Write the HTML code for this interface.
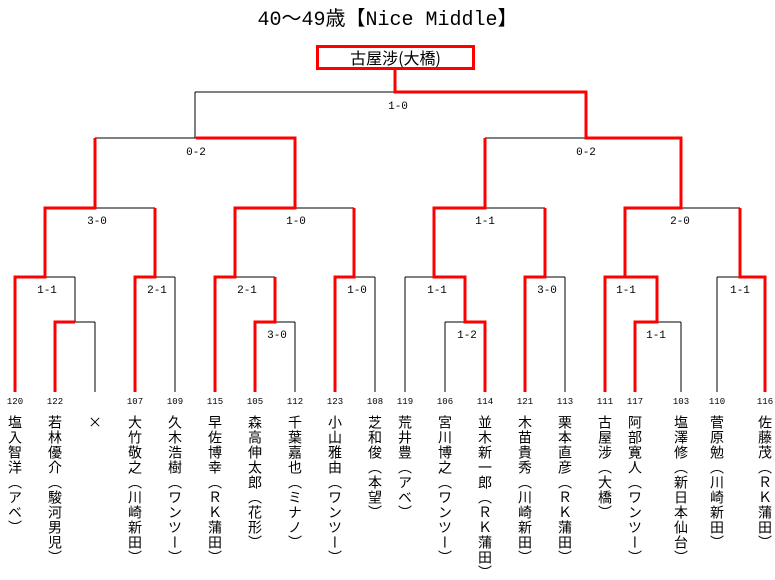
<!DOCTYPE html>
<html><head><meta charset="utf-8"><style>
body{margin:0;background:#fff;width:775px;height:578px;overflow:hidden;position:relative;font-family:"Liberation Sans","Noto Sans CJK JP",sans-serif}
.t{position:absolute;left:0;width:775px;top:2px;text-align:center;font-family:"Liberation Mono","Noto Sans CJK JP",monospace;font-size:20px}
.box{position:absolute;left:316px;top:45px;width:153px;height:19px;border:3px solid #f00;text-align:center;font-size:16px;line-height:19px;font-family:"Noto Sans CJK JP",sans-serif}
.n{position:absolute;top:397px;width:30px;margin-left:-15px;text-align:center;font-size:9px;font-family:"Liberation Mono",monospace}
.v{position:absolute;top:415px;width:16px;margin-left:-8px;writing-mode:vertical-rl;font-size:14px;line-height:16px;letter-spacing:1px;font-family:"Noto Sans CJK JP",sans-serif}
</style></head><body>
<div class="t">40～49歳【Nice Middle】</div>
<div class="box">古屋涉(大橋)</div>
<svg width="775" height="578" style="position:absolute;left:0;top:0">
<g stroke="#000" stroke-width="1" fill="none">
<path d="M195 92H586M95 138H295M485 138H681M45 208H155M235 208H354M434 208H545M625 208H740"/>
<path d="M195 92V138M95 138V208M295 138V208M485 138V208M681 138V208"/>
<path d="M15 277H75M75 277V322M55 322H95M95 322V392M135 277H175M175 277V392M215 277H275M255 322H295M295 322V392M335 277H375M375 277V392"/>
<path d="M405 277H465M405 277V392M445 322H485M445 322V392M525 277H565M565 277V392M605 277H657M635 322H681M681 322V392M717 277H765M717 277V392"/>
</g>
<g stroke="#f00" stroke-width="3" fill="none" stroke-linejoin="miter">
<path d="M395 70V92H586V138H681V208H625V277H605V392"/>
<path d="M196 138H295V208H235V277H215V392"/>
<path d="M95 138V208H45V277H15V392"/>
<path d="M155 208V277H135V392"/>
<path d="M354 208V277H335V392"/>
<path d="M485 138V208H434V277H465V322H485V392"/>
<path d="M545 208V277H525V392"/>
<path d="M740 208V277H765V392"/>
<path d="M55 392V322H75"/>
<path d="M275 277V322H255V392"/>
<path d="M625 277H657V322H635V392"/>
</g>
<g font-family="Liberation Mono, monospace" font-size="11" text-anchor="middle">
<text x="398" y="109">1-0</text>
<text x="196" y="155">0-2</text><text x="586" y="155">0-2</text>
<text x="97" y="224">3-0</text><text x="296" y="224">1-0</text><text x="485" y="224">1-1</text><text x="680" y="224">2-0</text>
<text x="47" y="293">1-1</text><text x="157" y="293">2-1</text><text x="247" y="293">2-1</text><text x="357" y="293">1-0</text>
<text x="437" y="293">1-1</text><text x="547" y="293">3-0</text><text x="626" y="293">1-1</text><text x="740" y="293">1-1</text>
<text x="277" y="338">3-0</text><text x="467" y="338">1-2</text><text x="656" y="338">1-1</text>
</g>
</svg>
<div class="n" style="left:15px">120</div><div class="v" style="left:15px">塩入智洋（アベ）</div>
<div class="n" style="left:55px">122</div><div class="v" style="left:55px">若林優介（駿河男児）</div>
<div class="v" style="left:95px">×</div>
<div class="n" style="left:135px">107</div><div class="v" style="left:135px">大竹敬之（川崎新田）</div>
<div class="n" style="left:175px">109</div><div class="v" style="left:175px">久木浩樹（ワンツー）</div>
<div class="n" style="left:215px">115</div><div class="v" style="left:215px">早佐博幸（ＲＫ蒲田）</div>
<div class="n" style="left:255px">105</div><div class="v" style="left:255px">森高伸太郎（花形）</div>
<div class="n" style="left:295px">112</div><div class="v" style="left:295px">千葉嘉也（ミナノ）</div>
<div class="n" style="left:335px">123</div><div class="v" style="left:335px">小山雅由（ワンツー）</div>
<div class="n" style="left:375px">108</div><div class="v" style="left:375px">芝和俊（本望）</div>
<div class="n" style="left:405px">119</div><div class="v" style="left:405px">荒井豊（アベ）</div>
<div class="n" style="left:445px">106</div><div class="v" style="left:445px">宮川博之（ワンツー）</div>
<div class="n" style="left:485px">114</div><div class="v" style="left:485px">並木新一郎（ＲＫ蒲田）</div>
<div class="n" style="left:525px">121</div><div class="v" style="left:525px">木苗貴秀（川崎新田）</div>
<div class="n" style="left:565px">113</div><div class="v" style="left:565px">栗本直彦（ＲＫ蒲田）</div>
<div class="n" style="left:605px">111</div><div class="v" style="left:605px">古屋涉（大橋）</div>
<div class="n" style="left:635px">117</div><div class="v" style="left:635px">阿部寛人（ワンツー）</div>
<div class="n" style="left:681px">103</div><div class="v" style="left:681px">塩澤修（新日本仙台）</div>
<div class="n" style="left:717px">110</div><div class="v" style="left:717px">菅原勉（川崎新田）</div>
<div class="n" style="left:765px">116</div><div class="v" style="left:765px">佐藤茂（ＲＫ蒲田）</div>
</body></html>
